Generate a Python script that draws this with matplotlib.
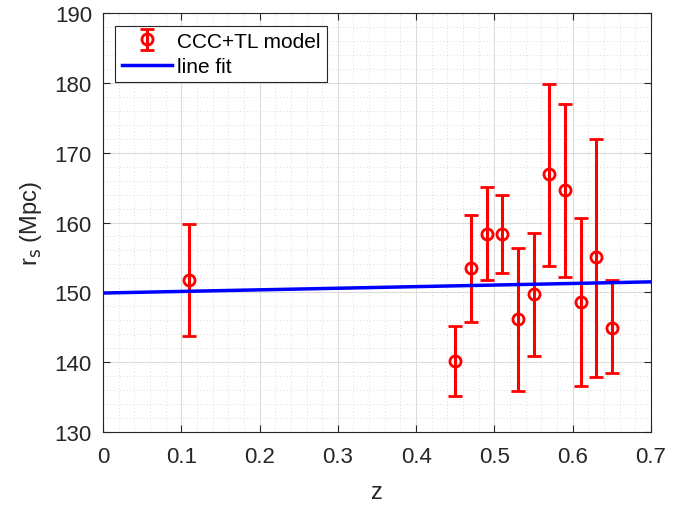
import numpy as np
import matplotlib
matplotlib.use('Agg')
import matplotlib.pyplot as plt
from matplotlib.ticker import MultipleLocator, FuncFormatter

plt.rcParams['font.family'] = ['Liberation Sans', 'DejaVu Sans']

# data
z = [0.11, 0.45, 0.47, 0.49, 0.51, 0.53, 0.55, 0.57, 0.59, 0.61, 0.63, 0.65]
rs = [151.8, 140.2, 153.5, 158.4, 158.3, 146.2, 149.7, 166.9, 164.6, 148.6, 155.0, 144.9]
rs_hi = [159.8, 145.2, 161.1, 165.1, 163.9, 156.4, 158.5, 179.9, 176.9, 160.7, 172.0, 151.7]
rs_lo = [143.7, 135.2, 145.8, 151.7, 152.7, 135.9, 140.9, 153.8, 152.2, 136.6, 137.9, 138.4]

fit_z = [0.0, 0.7]
fit_rs = [149.9, 151.5]

rs = np.array(rs)
err = [rs - np.array(rs_lo), np.array(rs_hi) - rs]

fig = plt.figure(figsize=(6.94, 5.06), dpi=100)
ax = fig.add_axes([0.1484, 0.1443, 0.7896, 0.828])

eb = ax.errorbar(z, rs, yerr=err, fmt='o', color='red', mfc='none', mec='red',
                 ms=8, mew=2, elinewidth=2.2, capsize=5, capthick=2.2,
                 label='CCC+TL model', zorder=3)
ln, = ax.plot(fit_z, fit_rs, color='blue', lw=2.5, label='line fit', zorder=4)

ax.set_xlim(0, 0.7)
ax.set_ylim(130, 190)
ax.xaxis.set_major_locator(MultipleLocator(0.1))
ax.yaxis.set_major_locator(MultipleLocator(10))
ax.xaxis.set_minor_locator(MultipleLocator(0.02))
ax.yaxis.set_minor_locator(MultipleLocator(2))
ax.xaxis.set_major_formatter(FuncFormatter(lambda v, p: '%g' % round(v, 2)))
ax.grid(which='major', color='#dcdcdc', lw=0.8)
ax.grid(which='minor', color='#d0d0d0', lw=0.6, ls=(0, (1, 3)))
ax.set_axisbelow(True)
ax.tick_params(which='both', direction='in', top=True, right=True,
               labelsize=16, colors='#262626')
ax.tick_params(which='major', length=5)
ax.tick_params(axis='x', which='major', pad=10)
ax.tick_params(axis='y', which='major', pad=8)
ax.tick_params(which='minor', length=0)
for s in ax.spines.values():
    s.set_color('#262626')
    s.set_linewidth(0.8)

ax.set_xlabel('z', fontsize=17, color='#262626', labelpad=10)
ax.set_ylabel(r'r$_{\mathrm{s}}$ (Mpc)', fontsize=17, color='#262626', labelpad=8)

leg = ax.legend([eb, ln], ['CCC+TL model', 'line fit'], loc='upper left',
                fontsize=15, fancybox=False, framealpha=1,
                edgecolor='#262626', handlelength=2.4, borderaxespad=0.6,
                borderpad=0.3, labelspacing=0.3, handletextpad=0.25)
leg.get_frame().set_linewidth(0.8)

fig.savefig('out.png', dpi=100)
